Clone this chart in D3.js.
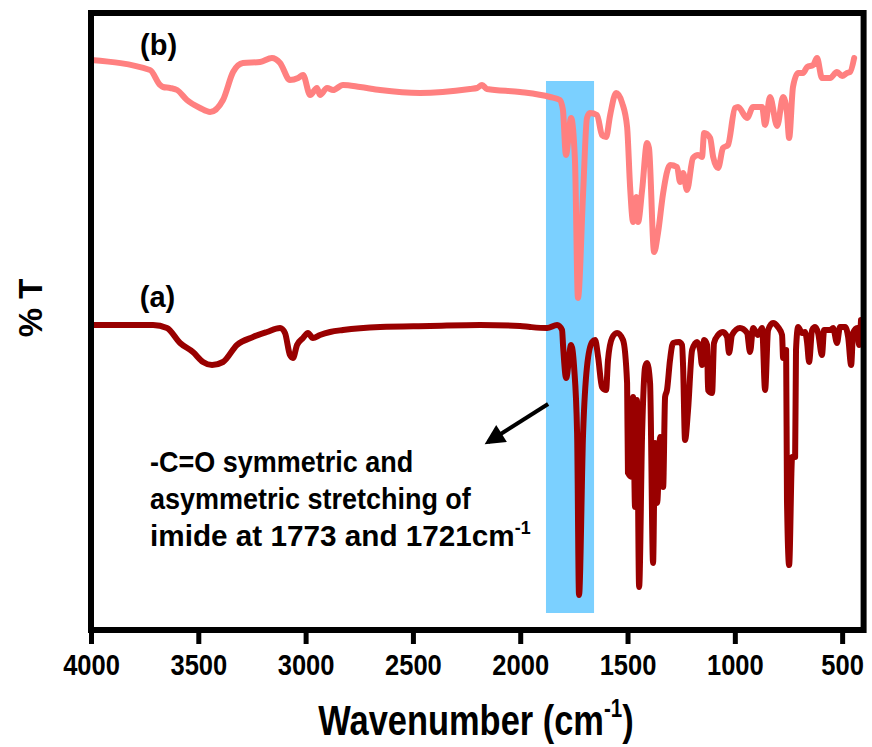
<!DOCTYPE html>
<html>
<head>
<meta charset="utf-8">
<script src="https://cdn.jsdelivr.net/npm/d3@7"></script>
<style>
  body { margin: 0; background: #fff; }
  svg { display: block; font-family: "Liberation Sans", Arial, sans-serif; font-weight: bold; }
</style>
</head>
<body>
<div id="chart"></div>
<script>
// FTIR spectra: (a) dark red, (b) salmon, offset on an arbitrary %T scale

const xTicks = [4000, 3500, 3000, 2500, 2000, 1500, 1000, 500];

// spectrum (b), upper trace
const waveB = [4000,3725,3678,3664,3632,3599,3553,3492,3445,3385,3338,3292,3212,3157,3119,3073,3035,3012,2979,2947,
  2933,2900,2872,2826,2746,2653,2467,2234,2201,2178,2155,2001,1861,1815,1801,1787,1763,1745,1731,1707,
  1689,1675,1642,1619,1600,1581,1553,1525,1502,1488,1474,1460,1451,1432,1409,1400,1376,1358,1334,1302,
  1269,1255,1241,1223,1195,1171,1153,1143,1115,1101,1078,1055,1032,999,985,943,915,873,859,836,
  803,775,757,747,729,705,682,663,635,617,594,556,524,500,477,463,444];
const transB = [570,560,545,543,542,540,530,522,518,530,558,567,568,572,567,550,552,555,535,542,
  535,542,540,545,543,540,537,541,542,545,541,538,533,530,520,475,512,470,332,437,
  512,517,515,495,493,515,537,527,503,443,408,433,408,440,487,482,378,397,437,465,
  463,448,457,440,472,475,473,497,492,473,462,482,485,522,523,512,523,523,505,533,
  504,533,517,492,543,557,557,563,565,572,552,552,558,554,557,558,572];

// spectrum (a), lower trace
const waveA = [4000,3711,3646,3585,3525,3478,3436,3385,3320,3245,3180,3119,3096,3073,3059,3040,3012,2989,2966,2933,
  2886,2826,2653,2420,2187,2001,1954,1875,1828,1805,1800,1786,1763,1749,1735,1726,1707,1689,1665,1651,
  1637,1619,1600,1591,1572,1549,1521,1502,1498,1479,1474,1465,1456,1446,1432,1418,1409,1395,1381,1372,
  1362,1348,1334,1325,1316,1302,1288,1260,1246,1241,1232,1218,1199,1176,1162,1153,1143,1129,1125,1106,
  1097,1078,1055,1036,1027,1013,976,943,929,915,892,873,859,845,822,799,780,775,761,757,
  747,733,719,715,705,687,673,663,654,640,626,612,594,584,556,542,524,510,486,472,
  458,449,430,421,412];
const transA = [305,305,302,287,278,268,265,268,285,293,298,302,297,275,272,285,292,297,292,295,
  298,300,303,304,305,304,303,302,305,300,283,252,285,263,197,35,197,263,288,290,
  273,243,240,270,292,297,290,247,157,153,233,123,230,43,197,263,267,247,67,187,
  127,193,143,233,240,270,287,288,285,263,190,220,280,288,280,265,290,285,240,237,
  287,295,298,293,277,295,302,297,278,302,295,302,240,300,307,303,295,272,280,130,
  65,173,173,280,303,297,298,287,268,300,303,297,275,300,300,302,287,303,303,293,
  265,297,302,285,310];

// highlighted C=O band
const bandRange = [1880, 1656];
const bandLevels = [17, 549];

const W = 872, H = 747;
const svg = d3.select("#chart").append("svg").attr("width", W).attr("height", H);

const x = d3.scaleLinear().domain([4000, 400]).range([91, 863.6]);
const y = d3.scaleLinear().domain([0, 617]).range([630, 13]);

// blue band behind the traces
svg.append("rect")
  .attr("x", x(bandRange[0]))
  .attr("y", y(bandLevels[1]))
  .attr("width", x(bandRange[1]) - x(bandRange[0]))
  .attr("height", y(bandLevels[0]) - y(bandLevels[1]))
  .attr("fill", "#7bd0ff");

const line = d3.line()
  .x(d => x(d[0]))
  .y(d => y(d[1]))
  .curve(d3.curveMonotoneX);

svg.append("path")
  .datum(d3.zip(waveB, transB))
  .attr("fill", "none")
  .attr("stroke", "#ff8080")
  .attr("stroke-width", 6)
  .attr("stroke-linejoin", "round")
  .attr("stroke-linecap", "round")
  .attr("d", line);

svg.append("path")
  .datum(d3.zip(waveA, transA))
  .attr("fill", "none")
  .attr("stroke", "#990000")
  .attr("stroke-width", 6)
  .attr("stroke-linejoin", "round")
  .attr("stroke-linecap", "round")
  .attr("d", line);

// frame
svg.append("rect")
  .attr("x", x(4000)).attr("y", y(617))
  .attr("width", x(400) - x(4000))
  .attr("height", y(0) - y(617))
  .attr("fill", "none")
  .attr("stroke", "#000")
  .attr("stroke-width", 6);

// bottom axis
const xAxis = svg.append("g")
  .attr("transform", `translate(0,${y(0)})`)
  .call(d3.axisBottom(x).tickValues(xTicks).tickSize(14).tickFormat(d3.format("d")));
xAxis.select(".domain").remove();
xAxis.selectAll(".tick line").attr("stroke", "#000").attr("stroke-width", 5);
xAxis.selectAll(".tick text")
  .attr("y", 45).attr("dy", null)
  .attr("fill", "#000")
  .style("font-size", "30px")
  .style("font-weight", "bold")
  .attr("transform", "scale(0.85,1)");

// axis titles
const xt = svg.append("g").attr("transform", "translate(476,735)")
  .append("text")
  .attr("text-anchor", "middle")
  .attr("transform", "scale(0.82,1)")
  .style("font-size", "42px");
xt.append("tspan").text("Wavenumber (cm");
xt.append("tspan").attr("dy", -18).style("font-size", "25px").text("-1");
xt.append("tspan").attr("dy", 18).text(")");

svg.append("text")
  .attr("transform", "translate(42,308) rotate(-90)")
  .attr("text-anchor", "middle")
  .style("font-size", "33px")
  .text("% T");

// trace labels
svg.append("text").attr("x", x(3685)).attr("y", y(575))
  .attr("text-anchor", "middle").style("font-size", "29px").text("(b)");
svg.append("text").attr("x", x(3690)).attr("y", y(323))
  .attr("text-anchor", "middle").style("font-size", "29px").text("(a)");

// annotation arrow
svg.append("defs").append("marker")
  .attr("id", "arrowhead")
  .attr("viewBox", "0 0 10 10")
  .attr("refX", 8).attr("refY", 5)
  .attr("markerWidth", 7).attr("markerHeight", 5)
  .attr("orient", "auto")
  .append("path")
  .attr("d", "M0,0 L10,5 L0,10 Z")
  .attr("fill", "#000");

svg.append("line")
  .attr("x1", x(1870)).attr("y1", y(226))
  .attr("x2", x(2150)).attr("y2", y(188))
  .attr("stroke", "#000")
  .attr("stroke-width", 4)
  .attr("marker-end", "url(#arrowhead)");

// annotation text
const noteLines = ["-C=O symmetric and", "asymmetric stretching of", "imide at 1773 and 1721cm"];
const noteScale = [0.9, 0.9, 0.99];
noteLines.forEach((t, i) => {
  const tx = svg.append("g").attr("transform", `translate(150,${472 + i * 37})`)
    .append("text")
    .attr("transform", `scale(${noteScale[i]},1)`)
    .style("font-size", "30px")
    .text(t);
  if (i === 2) {
    tx.append("tspan").attr("dy", -12).style("font-size", "18px").text("-1");
  }
});
</script>
</body>
</html>
